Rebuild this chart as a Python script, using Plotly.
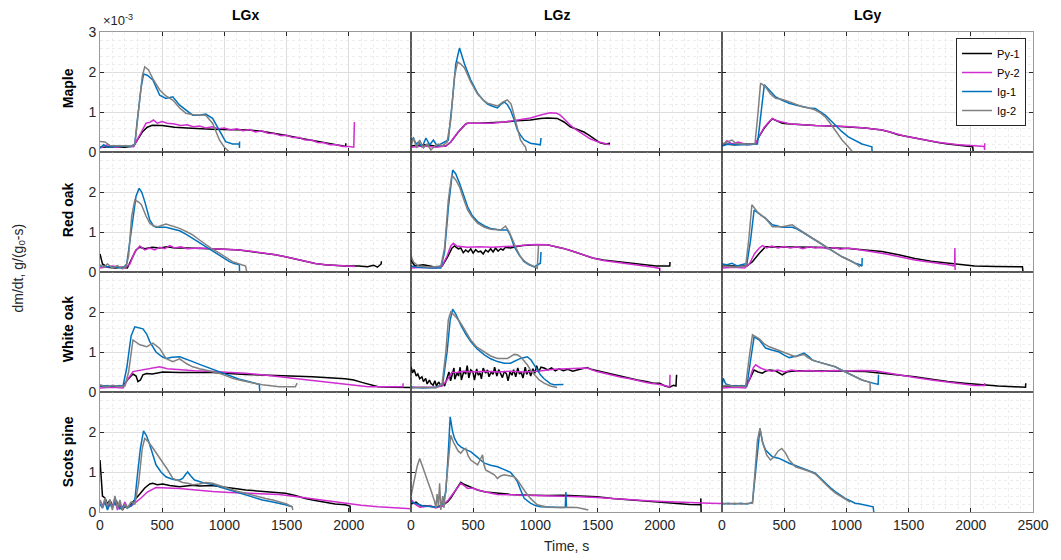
import plotly.graph_objects as go
from plotly.subplots import make_subplots

# ---------------- data: (time s, dm/dt in 1e-3 g/(g0 s)) ----------------
maple_lgx_py1 = [(0,0.12),(100,0.13),(200,0.12),(270,0.15),(300,0.3),(340,0.5),(380,0.62),(420,0.67),(500,0.66),(600,0.62),(700,0.6),(800,0.58),(900,0.57),(1000,0.56),(1100,0.56),(1200,0.55),(1300,0.52),(1400,0.47),(1500,0.41),(1600,0.35),(1700,0.29),(1800,0.23),(1900,0.18),(1975,0.14),(1976,0.22)]
maple_lgx_py2 = [(0,0.1),(60,0.18),(120,0.12),(200,0.15),(270,0.13),(300,0.3),(340,0.55),(370,0.72),(400,0.74),(430,0.8),(460,0.72),(500,0.76),(540,0.72),(600,0.7),(650,0.66),(700,0.68),(750,0.63),(800,0.65),(850,0.6),(900,0.63),(950,0.58),(1000,0.6),(1050,0.55),(1100,0.58),(1150,0.53),(1200,0.56),(1250,0.5),(1300,0.53),(1350,0.47),(1400,0.46),(1450,0.41),(1500,0.42),(1550,0.36),(1600,0.36),(1650,0.3),(1700,0.3),(1750,0.24),(1800,0.23),(1850,0.18),(1900,0.18),(1950,0.14),(2000,0.14),(2040,0.12),(2045,0.75)]
maple_lgx_ig1 = [(0,0.1),(30,0.18),(60,0.12),(150,0.15),(250,0.14),(280,0.2),(300,0.8),(330,1.6),(350,1.95),(380,1.92),(425,1.8),(480,1.42),(530,1.34),(585,1.38),(640,1.17),(700,1.02),(745,0.92),(800,0.92),(850,0.95),(905,0.84),(960,0.55),(1010,0.26),(1065,0.2),(1120,0.2),(1121,0.1),(1122,0.26)]
maple_lgx_ig2 = [(0,0.26),(40,0.25),(80,0.16),(150,0.15),(250,0.15),(280,0.18),(310,1.0),(340,1.9),(360,2.13),(390,2.05),(430,1.8),(480,1.55),(530,1.4),(585,1.3),(640,1.1),(690,0.97),(750,0.93),(800,0.93),(850,0.92),(905,0.72),(960,0.3),(1000,0.12),(1040,0.0)]

maple_lgz_py1 = [(0,0.15),(100,0.18),(200,0.15),(280,0.15),(320,0.25),(380,0.5),(440,0.7),(455,0.72),(550,0.72),(650,0.73),(750,0.75),(850,0.78),(960,0.8),(1040,0.84),(1100,0.85),(1175,0.84),(1230,0.75),(1280,0.63),(1340,0.56),(1390,0.5),(1430,0.42),(1465,0.34),(1520,0.23),(1560,0.2),(1600,0.22)]
maple_lgz_py2 = [(0,0.12),(100,0.15),(200,0.12),(280,0.15),(320,0.25),(380,0.5),(440,0.7),(455,0.72),(550,0.72),(650,0.72),(750,0.75),(850,0.8),(960,0.85),(1050,0.93),(1120,0.98),(1170,0.97),(1200,0.92),(1240,0.8),(1280,0.67),(1330,0.55),(1390,0.42),(1440,0.33),(1495,0.26),(1540,0.22),(1575,0.2),(1600,0.18)]
maple_lgz_ig1 = [(0,0.3),(20,0.35),(40,0.2),(60,0.25),(90,0.12),(120,0.35),(150,0.18),(180,0.3),(210,0.15),(240,0.2),(270,0.25),(300,0.3),(330,1.2),(360,2.2),(390,2.6),(410,2.4),(430,2.2),(480,1.8),(535,1.47),(580,1.3),(615,1.2),(650,1.15),(695,1.1),(725,1.2),(750,1.25),(775,1.18),(800,1.05),(830,0.8),(855,0.55),(880,0.42),(910,0.3),(960,0.22),(1000,0.2),(1040,0.18),(1045,0.35)]
maple_lgz_ig2 = [(0,0.15),(20,0.35),(45,0.1),(70,0.3),(100,0.1),(130,0.2),(160,0.05),(190,0.15),(220,0.2),(250,0.15),(290,0.25),(320,0.8),(350,1.9),(375,2.25),(400,2.2),(430,2.1),(480,1.75),(535,1.45),(580,1.3),(615,1.22),(695,1.15),(740,1.25),(775,1.3),(805,1.2),(830,0.9),(855,0.6),(880,0.3),(905,0.18),(920,0.13),(930,0.0)]

maple_lgy_py1 = [(0,0.2),(100,0.18),(200,0.2),(270,0.2),(300,0.4),(340,0.6),(380,0.75),(405,0.83),(440,0.78),(485,0.72),(550,0.7),(620,0.68),(750,0.66),(885,0.65),(1000,0.63),(1150,0.6),(1285,0.55),(1350,0.5),(1415,0.43),(1480,0.39),(1550,0.34),(1620,0.3),(1685,0.26),(1750,0.23),(1815,0.2),(1900,0.17),(2015,0.13),(2020,0.0)]
maple_lgy_py2 = [(0,0.15),(40,0.28),(80,0.2),(130,0.25),(200,0.18),(270,0.2),(300,0.4),(340,0.62),(380,0.76),(405,0.84),(440,0.78),(485,0.74),(550,0.7),(620,0.69),(750,0.66),(885,0.65),(1000,0.64),(1150,0.6),(1285,0.55),(1350,0.5),(1415,0.44),(1480,0.39),(1550,0.35),(1620,0.3),(1685,0.27),(1750,0.24),(1815,0.21),(1900,0.18),(2000,0.16),(2060,0.14),(2110,0.14),(2111,0.05),(2112,0.22)]
maple_lgy_ig1 = [(0,0.15),(50,0.2),(100,0.18),(200,0.18),(285,0.2),(310,0.9),(340,1.68),(380,1.55),(430,1.38),(480,1.3),(540,1.22),(600,1.17),(645,1.13),(700,1.1),(750,1.09),(790,1.0),(830,0.92),(870,0.8),(910,0.67),(960,0.52),(1015,0.38),(1070,0.28),(1125,0.2),(1170,0.16),(1205,0.13),(1206,0.02)]
maple_lgy_ig2 = [(0,0.2),(40,0.25),(80,0.3),(110,0.22),(150,0.2),(200,0.2),(265,0.2),(290,1.0),(310,1.72),(350,1.63),(390,1.45),(430,1.34),(480,1.32),(540,1.26),(590,1.2),(645,1.13),(700,1.1),(750,1.05),(790,0.98),(830,0.88),(870,0.72),(910,0.55),(965,0.3),(1015,0.13),(1050,0.0)]

redoak_lgx_py1 = [(0,0.45),(20,0.2),(60,0.12),(120,0.1),(180,0.12),(220,0.1),(250,0.3),(290,0.55),(320,0.62),(360,0.58),(420,0.62),(480,0.6),(540,0.63),(600,0.6),(700,0.6),(850,0.59),(1000,0.57),(1120,0.55),(1230,0.51),(1330,0.47),(1410,0.43),(1490,0.38),(1570,0.32),(1650,0.26),(1730,0.21),(1810,0.18),(1900,0.16),(1970,0.15),(2080,0.15),(2150,0.13),(2200,0.17),(2230,0.12),(2260,0.2),(2262,0.27)]
redoak_lgx_py2 = [(0,0.1),(100,0.15),(200,0.1),(240,0.2),(280,0.5),(320,0.65),(360,0.55),(400,0.6),(440,0.55),(480,0.62),(520,0.58),(560,0.66),(600,0.6),(650,0.63),(700,0.58),(800,0.6),(900,0.58),(1000,0.57),(1120,0.55),(1230,0.51),(1330,0.47),(1410,0.43),(1490,0.38),(1570,0.32),(1650,0.26),(1730,0.21),(1810,0.18),(1900,0.16),(1970,0.15),(2050,0.14)]
redoak_lgx_ig1 = [(0,0.15),(60,0.13),(120,0.12),(185,0.1),(215,0.2),(260,1.2),(290,1.9),(315,2.09),(335,2.0),(360,1.76),(400,1.3),(430,1.15),(450,1.12),(530,1.12),(580,1.08),(640,1.03),(700,0.93),(745,0.84),(800,0.73),(850,0.63),(900,0.53),(960,0.42),(1000,0.33),(1040,0.26),(1080,0.21),(1120,0.18),(1122,0.0)]
redoak_lgx_ig2 = [(0,0.18),(30,0.12),(60,0.2),(100,0.1),(140,0.16),(180,0.08),(210,0.15),(230,0.4),(255,1.4),(280,1.8),(310,1.75),(333,1.68),(370,1.4),(400,1.22),(430,1.15),(465,1.13),(530,1.2),(580,1.15),(640,1.09),(700,1.0),(745,0.93),(800,0.8),(850,0.68),(900,0.58),(960,0.47),(1010,0.36),(1065,0.26),(1120,0.2),(1170,0.15),(1180,0.0)]

redoak_lgz_py1 = [(0,0.3),(30,0.15),(100,0.18),(200,0.12),(250,0.15),(290,0.35),(330,0.6),(350,0.65),(380,0.58),(400,0.6),(420,0.48),(440,0.55),(460,0.5),(480,0.58),(500,0.47),(520,0.56),(540,0.5),(560,0.52),(580,0.45),(600,0.55),(620,0.5),(640,0.58),(660,0.5),(680,0.6),(700,0.52),(720,0.58),(740,0.55),(760,0.62),(800,0.6),(850,0.64),(900,0.66),(1000,0.68),(1095,0.68),(1160,0.64),(1225,0.59),(1300,0.52),(1385,0.42),(1460,0.35),(1545,0.3),(1650,0.26),(1760,0.22),(1870,0.18),(1970,0.15),(2080,0.15),(2082,0.25)]
redoak_lgz_py2 = [(0,0.1),(100,0.12),(200,0.1),(250,0.15),(290,0.4),(320,0.65),(340,0.72),(370,0.65),(450,0.62),(550,0.63),(650,0.62),(750,0.63),(850,0.65),(950,0.68),(1015,0.69),(1095,0.68),(1160,0.64),(1225,0.59),(1300,0.52),(1385,0.42),(1460,0.35),(1545,0.29),(1650,0.25),(1760,0.21),(1870,0.16),(1950,0.12),(2000,0.09),(2001,0.0)]
redoak_lgz_ig1 = [(0,0.15),(50,0.12),(150,0.1),(240,0.1),(270,0.5),(300,1.6),(335,2.55),(360,2.45),(390,2.22),(420,1.95),(455,1.63),(490,1.42),(535,1.26),(590,1.15),(640,1.09),(720,1.05),(775,1.05),(800,0.9),(830,0.63),(870,0.42),(910,0.26),(950,0.18),(990,0.13),(1040,0.22),(1045,0.5)]
redoak_lgz_ig2 = [(0,0.4),(20,0.25),(60,0.15),(150,0.12),(240,0.15),(270,0.6),(300,1.8),(328,2.42),(360,2.3),(390,2.13),(420,1.85),(455,1.55),(490,1.38),(535,1.22),(590,1.12),(640,1.07),(720,1.05),(760,1.15),(790,1.0),(815,0.8),(845,0.6),(880,0.38),(920,0.25),(960,0.18),(1015,0.09),(1025,0.65)]

redoak_lgy_py1 = [(0,0.15),(100,0.15),(200,0.15),(245,0.26),(300,0.47),(350,0.63),(485,0.63),(750,0.62),(1015,0.59),(1150,0.55),(1285,0.51),(1420,0.43),(1550,0.34),(1680,0.27),(1815,0.22),(1920,0.18),(2030,0.15),(2200,0.14),(2350,0.13),(2415,0.13),(2420,0.0)]
redoak_lgy_py2 = [(0,0.1),(100,0.12),(180,0.1),(220,0.2),(260,0.45),(300,0.6),(325,0.66),(360,0.6),(400,0.65),(450,0.6),(500,0.64),(550,0.6),(600,0.63),(650,0.58),(700,0.63),(750,0.6),(800,0.62),(850,0.58),(900,0.61),(950,0.57),(1015,0.6),(1100,0.56),(1200,0.52),(1285,0.47),(1350,0.43),(1420,0.38),(1500,0.33),(1550,0.3),(1620,0.27),(1700,0.24),(1760,0.22),(1820,0.18),(1870,0.15),(1872,0.6),(1874,0.05)]
redoak_lgy_ig1 = [(0,0.2),(40,0.18),(80,0.22),(120,0.15),(180,0.2),(200,0.2),(230,0.8),(258,1.55),(300,1.45),(350,1.34),(405,1.18),(485,1.12),(565,1.12),(600,1.08),(645,1.0),(700,0.9),(750,0.8),(800,0.7),(855,0.59),(910,0.48),(965,0.38),(1020,0.3),(1070,0.22),(1110,0.18),(1125,0.15),(1127,0.35)]
redoak_lgy_ig2 = [(0,0.15),(100,0.12),(190,0.15),(215,0.8),(240,1.68),(285,1.5),(350,1.34),(405,1.13),(485,1.13),(565,1.18),(600,1.1),(645,1.0),(700,0.9),(750,0.8),(800,0.7),(855,0.59),(910,0.48),(965,0.38),(1020,0.3),(1070,0.22),(1110,0.13)]

whiteoak_lgx_py1 = [(0,0.15),(100,0.13),(185,0.15),(220,0.3),(265,0.45),(290,0.4),(305,0.26),(325,0.3),(345,0.43),(375,0.46),(420,0.45),(505,0.5),(640,0.49),(905,0.49),(1170,0.44),(1440,0.41),(1705,0.38),(1970,0.33),(2040,0.3),(2105,0.24),(2170,0.18),(2235,0.13),(2350,0.12),(2500,0.11)]
whiteoak_lgx_py2 = [(0,0.1),(100,0.12),(185,0.1),(220,0.3),(265,0.51),(350,0.55),(420,0.6),(480,0.63),(540,0.58),(640,0.55),(760,0.53),(905,0.51),(1040,0.49),(1170,0.47),(1300,0.43),(1440,0.38),(1570,0.34),(1705,0.3),(1840,0.25),(1970,0.2),(2060,0.16),(2155,0.13),(2300,0.13),(2435,0.13),(2437,0.22)]
whiteoak_lgx_ig1 = [(0,0.15),(100,0.15),(185,0.15),(215,0.6),(250,1.4),(280,1.63),(345,1.58),(375,1.45),(400,1.26),(450,1.0),(500,0.88),(530,0.84),(580,0.87),(640,0.88),(700,0.8),(745,0.76),(800,0.69),(850,0.63),(900,0.57),(960,0.51),(1010,0.45),(1065,0.38),(1120,0.32),(1170,0.28),(1230,0.23),(1280,0.19),(1285,0.0)]
whiteoak_lgx_ig2 = [(0,0.18),(50,0.12),(100,0.17),(150,0.13),(200,0.15),(230,0.5),(265,1.3),(320,1.18),(375,1.13),(425,1.22),(480,1.09),(530,0.84),(585,0.76),(640,0.83),(700,0.7),(745,0.63),(800,0.58),(850,0.55),(900,0.51),(960,0.47),(1010,0.41),(1065,0.34),(1120,0.3),(1170,0.26),(1240,0.22),(1305,0.18),(1370,0.15),(1440,0.13),(1500,0.13),(1570,0.13),(1585,0.22)]

whiteoak_lgz_py1 = [(0,0.63),(12,0.48),(25,0.56),(42,0.4),(55,0.45),(70,0.33),(88,0.38),(100,0.26),(118,0.34),(130,0.2),(148,0.3),(160,0.22),(178,0.17),(192,0.28),(205,0.15),(222,0.25),(240,0.16),(255,0.22),(270,0.15),(290,0.35),(305,0.5),(318,0.28),(330,0.45),(345,0.6),(352,0.32),(370,0.48),(382,0.4),(395,0.62),(405,0.3),(425,0.52),(440,0.45),(452,0.66),(465,0.35),(480,0.55),(498,0.5),(510,0.3),(528,0.58),(540,0.42),(555,0.48),(566,0.33),(580,0.6),(600,0.47),(615,0.55),(627,0.38),(645,0.5),(660,0.44),(672,0.62),(690,0.4),(705,0.56),(718,0.48),(735,0.36),(750,0.52),(768,0.45),(780,0.28),(796,0.5),(812,0.42),(825,0.56),(842,0.38),(858,0.6),(872,0.45),(885,0.5),(900,0.35),(918,0.62),(930,0.44),(948,0.55),(962,0.4),(980,0.58),(995,0.47),(1010,0.66),(1025,0.5),(1045,0.62),(1070,0.6),(1100,0.55),(1130,0.6),(1160,0.53),(1190,0.58),(1225,0.53),(1260,0.57),(1300,0.52),(1335,0.55),(1370,0.58),(1415,0.61),(1455,0.56),(1495,0.53),(1560,0.48),(1625,0.43),(1690,0.38),(1760,0.34),(1820,0.3),(1890,0.26),(1950,0.22),(2000,0.22),(2040,0.15),(2080,0.12),(2110,0.17),(2130,0.15),(2135,0.43)]
whiteoak_lgz_py2 = [(0,0.12),(100,0.12),(200,0.12),(250,0.15),(290,0.3),(330,0.5),(360,0.48),(420,0.52),(500,0.5),(600,0.52),(700,0.5),(800,0.52),(900,0.5),(1015,0.52),(1080,0.55),(1150,0.57),(1250,0.58),(1350,0.59),(1415,0.6),(1495,0.51),(1560,0.46),(1625,0.41),(1690,0.37),(1760,0.33),(1830,0.28),(1900,0.23),(2000,0.19),(2040,0.16),(2080,0.13),(2082,0.43)]
whiteoak_lgz_ig1 = [(0,0.12),(100,0.1),(200,0.12),(255,0.2),(290,1.0),(315,1.8),(335,2.07),(360,1.95),(400,1.68),(440,1.45),(480,1.26),(530,1.08),(590,0.93),(640,0.83),(695,0.76),(750,0.72),(800,0.72),(840,0.78),(880,0.84),(935,0.88),(965,0.8),(990,0.68),(1015,0.55),(1040,0.43),(1070,0.33),(1095,0.26),(1120,0.21),(1150,0.18),(1190,0.18),(1225,0.19)]
whiteoak_lgz_ig2 = [(0,0.1),(100,0.12),(200,0.1),(250,0.2),(280,1.0),(300,1.8),(320,2.0),(360,1.88),(400,1.72),(440,1.5),(480,1.3),(530,1.12),(590,1.0),(640,0.9),(695,0.84),(775,0.84),(830,0.94),(855,0.93),(880,0.88),(910,0.78),(935,0.68),(960,0.55),(990,0.43),(1030,0.3),(1070,0.22),(1120,0.15),(1175,0.11)]

whiteoak_lgy_py1 = [(0,0.15),(100,0.15),(190,0.15),(220,0.3),(258,0.55),(290,0.5),(325,0.47),(350,0.52),(380,0.55),(430,0.53),(485,0.43),(520,0.5),(560,0.52),(620,0.53),(750,0.53),(885,0.53),(1015,0.52),(1150,0.51),(1285,0.47),(1415,0.43),(1550,0.38),(1685,0.32),(1815,0.26),(1950,0.22),(2080,0.18),(2220,0.15),(2350,0.13),(2440,0.12),(2442,0.22)]
whiteoak_lgy_py2 = [(0,0.1),(100,0.12),(190,0.1),(220,0.3),(250,0.6),(270,0.68),(310,0.6),(350,0.55),(400,0.52),(450,0.55),(500,0.5),(560,0.55),(620,0.52),(700,0.54),(800,0.51),(900,0.54),(1000,0.52),(1100,0.54),(1230,0.53),(1320,0.48),(1415,0.43),(1550,0.36),(1685,0.3),(1820,0.24),(1950,0.18),(2030,0.16),(2110,0.16),(2112,0.22)]
whiteoak_lgy_ig1 = [(0,0.15),(10,0.34),(30,0.2),(80,0.15),(150,0.15),(200,0.15),(230,0.8),(258,1.38),(300,1.3),(350,1.1),(400,1.05),(460,1.0),(500,0.92),(540,0.86),(600,0.9),(660,0.97),(700,0.88),(725,0.8),(765,0.76),(805,0.72),(860,0.67),(910,0.63),(960,0.55),(1015,0.47),(1070,0.38),(1125,0.3),(1190,0.24),(1230,0.21),(1255,0.19),(1258,0.43)]
whiteoak_lgy_ig2 = [(0,0.15),(50,0.17),(100,0.14),(150,0.15),(190,0.15),(220,0.9),(245,1.43),(300,1.33),(340,1.2),(380,1.13),(420,1.08),(460,1.05),(500,1.0),(540,0.94),(590,0.88),(630,0.92),(660,0.94),(690,0.86),(725,0.8),(765,0.76),(805,0.72),(860,0.67),(910,0.63),(960,0.55),(1015,0.47),(1070,0.38),(1125,0.3),(1190,0.24),(1192,0.0)]

scots_lgx_py1 = [(0,1.3),(10,0.8),(20,0.4),(40,0.35),(60,0.2),(80,0.3),(100,0.15),(120,0.25),(140,0.1),(160,0.2),(180,0.05),(200,0.15),(220,0.1),(250,0.2),(280,0.3),(320,0.45),(360,0.6),(400,0.7),(425,0.72),(460,0.68),(505,0.7),(560,0.66),(640,0.63),(700,0.65),(745,0.67),(800,0.65),(905,0.66),(970,0.63),(1040,0.61),(1100,0.58),(1170,0.55),(1250,0.53),(1330,0.52),(1410,0.5),(1490,0.47),(1570,0.41),(1650,0.34),(1730,0.29),(1810,0.24),(1890,0.2),(1970,0.18),(2010,0.15),(2012,0.0)]
scots_lgx_py2 = [(0,0.3),(20,0.15),(40,0.3),(60,0.1),(80,0.25),(100,0.12),(120,0.35),(140,0.05),(160,0.2),(180,0.1),(200,0.25),(220,0.12),(250,0.15),(290,0.25),(330,0.35),(380,0.5),(450,0.61),(540,0.6),(640,0.59),(770,0.55),(905,0.51),(1040,0.49),(1170,0.47),(1300,0.45),(1440,0.44),(1570,0.39),(1705,0.33),(1840,0.27),(1970,0.22),(2100,0.17),(2235,0.13),(2370,0.1),(2500,0.08)]
scots_lgx_ig1 = [(0,0.2),(20,0.1),(40,0.25),(60,0.05),(80,0.2),(100,0.1),(130,0.3),(160,0.08),(190,0.15),(220,0.1),(250,0.15),(280,0.3),(300,0.9),(325,1.6),(350,2.03),(375,1.9),(400,1.68),(425,1.42),(450,1.18),(490,1.0),(530,0.88),(570,0.83),(610,0.8),(640,0.8),(665,0.84),(690,0.95),(705,1.0),(730,0.9),(760,0.8),(825,0.74),(905,0.69),(970,0.62),(1040,0.55),(1100,0.49),(1170,0.43),(1240,0.36),(1305,0.3),(1370,0.26),(1440,0.22),(1490,0.18),(1545,0.13)]
scots_lgx_ig2 = [(0,0.3),(20,0.1),(40,0.35),(60,0.15),(80,0.3),(100,0.05),(120,0.4),(140,0.1),(160,0.3),(180,0.05),(200,0.2),(220,0.1),(250,0.25),(280,0.2),(310,0.7),(340,1.6),(360,1.84),(390,1.75),(425,1.6),(465,1.42),(505,1.26),(545,1.05),(585,0.84),(625,0.78),(665,0.74),(705,0.72),(745,0.68),(800,0.7),(850,0.74),(905,0.72),(970,0.65),(1040,0.58),(1100,0.52),(1170,0.47),(1250,0.4),(1330,0.34),(1390,0.3),(1440,0.26),(1500,0.2),(1545,0.13),(1550,0.05)]

scots_lgz_py1 = [(0,0.2),(40,0.25),(80,0.15),(150,0.15),(200,0.12),(250,0.15),(295,0.26),(320,0.35),(350,0.5),(380,0.65),(400,0.74),(420,0.7),(455,0.66),(495,0.6),(535,0.55),(600,0.5),(695,0.47),(800,0.44),(960,0.42),(1100,0.41),(1225,0.42),(1350,0.4),(1495,0.38),(1620,0.34),(1760,0.3),(1900,0.27),(2025,0.24),(2140,0.21),(2240,0.19),(2328,0.18),(2330,0.34),(2332,0.0)]
scots_lgz_py2 = [(0,0.32),(30,0.2),(70,0.12),(150,0.15),(200,0.1),(250,0.15),(300,0.3),(350,0.5),(400,0.72),(430,0.65),(455,0.59),(495,0.6),(535,0.55),(600,0.5),(695,0.44),(800,0.43),(960,0.42),(1100,0.4),(1225,0.4),(1350,0.38),(1495,0.36),(1620,0.33),(1760,0.3),(1900,0.28),(2025,0.26),(2160,0.24),(2290,0.22),(2400,0.22),(2500,0.21)]
scots_lgz_ig1 = [(0,0.25),(30,0.22),(60,0.18),(100,0.15),(150,0.14),(200,0.12),(250,0.18),(280,0.5),(300,1.5),(315,2.38),(335,2.0),(350,1.84),(375,1.7),(400,1.63),(440,1.56),(480,1.51),(530,1.38),(590,1.22),(640,1.17),(695,1.13),(750,1.06),(800,0.99),(830,0.88),(855,0.76),(880,0.56),(910,0.34),(960,0.22),(1000,0.16),(1040,0.13),(1150,0.11),(1225,0.11),(1240,0.12),(1245,0.5),(1250,0.12)]
scots_lgz_ig2 = [(0,0.4),(25,0.8),(50,1.15),(70,1.34),(100,1.05),(135,0.76),(165,0.5),(190,0.26),(200,0.1),(210,0.45),(220,0.15),(230,0.72),(240,0.05),(255,0.4),(265,0.1),(280,0.55),(300,1.2),(320,1.92),(340,1.75),(360,1.63),(380,1.52),(400,1.47),(420,1.55),(440,1.59),(460,1.4),(480,1.3),(505,1.25),(535,1.18),(555,1.3),(575,1.43),(585,1.2),(600,1.05),(630,1.0),(670,0.93),(695,0.84),(720,0.9),(750,0.93),(790,0.9),(830,0.88),(855,0.8),(880,0.68),(920,0.5),(960,0.34),(990,0.24),(1015,0.18),(1100,0.12),(1175,0.11),(1250,0.12),(1335,0.11),(1400,0.07),(1425,0.05)]

scots_lgy_ig1 = [(0,0.2),(50,0.22),(100,0.2),(150,0.22),(200,0.2),(245,0.24),(270,1.0),(290,1.7),(305,2.09),(325,1.75),(350,1.55),(405,1.38),(460,1.34),(540,1.22),(620,1.13),(700,1.03),(750,0.97),(790,0.85),(830,0.72),(870,0.61),(910,0.51),(950,0.42),(990,0.34),(1030,0.28),(1070,0.22),(1110,0.2),(1150,0.18),(1215,0.13),(1220,0.0)]
scots_lgy_ig2 = [(0,0.22),(50,0.2),(100,0.22),(150,0.2),(200,0.21),(245,0.22),(265,1.0),(285,1.8),(305,2.09),(330,1.7),(360,1.42),(390,1.3),(420,1.38),(450,1.52),(480,1.59),(510,1.48),(540,1.3),(590,1.13),(620,1.1),(700,1.02),(750,0.95),(790,0.82),(830,0.7),(870,0.58),(910,0.48),(950,0.4),(990,0.32),(1030,0.25)]

species = ["Maple", "Red oak", "White oak", "Scots pine"]
columns = ["LGx", "LGz", "LGy"]
series_names = ["Py-1", "Py-2", "Ig-1", "Ig-2"]
series_colors = ["#000000", "#D02CD0", "#0072BD", "#808080"]

panels = [
    [[maple_lgx_py1, maple_lgx_py2, maple_lgx_ig1, maple_lgx_ig2],
     [maple_lgz_py1, maple_lgz_py2, maple_lgz_ig1, maple_lgz_ig2],
     [maple_lgy_py1, maple_lgy_py2, maple_lgy_ig1, maple_lgy_ig2]],
    [[redoak_lgx_py1, redoak_lgx_py2, redoak_lgx_ig1, redoak_lgx_ig2],
     [redoak_lgz_py1, redoak_lgz_py2, redoak_lgz_ig1, redoak_lgz_ig2],
     [redoak_lgy_py1, redoak_lgy_py2, redoak_lgy_ig1, redoak_lgy_ig2]],
    [[whiteoak_lgx_py1, whiteoak_lgx_py2, whiteoak_lgx_ig1, whiteoak_lgx_ig2],
     [whiteoak_lgz_py1, whiteoak_lgz_py2, whiteoak_lgz_ig1, whiteoak_lgz_ig2],
     [whiteoak_lgy_py1, whiteoak_lgy_py2, whiteoak_lgy_ig1, whiteoak_lgy_ig2]],
    [[scots_lgx_py1, scots_lgx_py2, scots_lgx_ig1, scots_lgx_ig2],
     [scots_lgz_py1, scots_lgz_py2, scots_lgz_ig1, scots_lgz_ig2],
     [None, None, scots_lgy_ig1, scots_lgy_ig2]],
]

FONT = "Arial, Liberation Sans, sans-serif"
TXT = "#262626"

fig = make_subplots(rows=4, cols=3, horizontal_spacing=0, vertical_spacing=0)

for r in range(4):
    for c in range(3):
        for k in range(4):
            data = panels[r][c][k]
            if data is None:
                continue
            fig.add_trace(go.Scatter(
                x=[p[0] for p in data], y=[p[1] for p in data], mode="lines",
                name=series_names[k], legendgroup=series_names[k],
                showlegend=(r == 0 and c == 0),
                line=dict(color=series_colors[k], width=1.5)),
                row=r + 1, col=c + 1)

x_ticks_inner = [0, 500, 1000, 1500, 2000]
x_ticks_last = [0, 500, 1000, 1500, 2000, 2500]
for r in range(4):
    for c in range(3):
        tv = x_ticks_last if c == 2 else x_ticks_inner
        fig.update_xaxes(
            range=[0, 2500], tickmode="array", tickvals=tv,
            ticktext=[str(v) for v in tv], showticklabels=(r == 3),
            showgrid=True, gridcolor="#dedede", gridwidth=1,
            minor=dict(tickmode="linear", tick0=0, dtick=100, showgrid=True,
                       gridcolor="#ededed", griddash="dot", ticks=""),
            ticks="inside", ticklen=4, tickcolor=TXT,
            showline=True, linecolor="#9a9a9a", linewidth=1, mirror="ticks",
            zeroline=False, tickfont=dict(family=FONT, size=14, color=TXT),
            row=r + 1, col=c + 1)
        ytv = [0, 1, 2, 3] if r == 0 else [0, 1, 2]
        fig.update_yaxes(
            range=[0, 3], tickmode="array", tickvals=ytv,
            ticktext=[str(v) for v in ytv], showticklabels=(c == 0),
            showgrid=True, gridcolor="#dedede", gridwidth=1,
            minor=dict(tickmode="linear", tick0=0, dtick=0.2, showgrid=True,
                       gridcolor="#ededed", griddash="dot", ticks=""),
            ticks="inside", ticklen=4, tickcolor=TXT,
            showline=True, linecolor="#9a9a9a", linewidth=1, mirror="ticks",
            zeroline=False, tickfont=dict(family=FONT, size=14, color=TXT),
            row=r + 1, col=c + 1)

# inner dark frame lines between panels
shapes = []
for xv in [1/3, 2/3]:
    shapes.append(dict(type="line", xref="paper", yref="paper", x0=xv, x1=xv, y0=0, y1=1,
                       line=dict(color="#1a1a1a", width=1), layer="above"))
for yv in [0.25, 0.5, 0.75]:
    shapes.append(dict(type="line", xref="paper", yref="paper", x0=0, x1=1, y0=yv, y1=yv,
                       line=dict(color="#1a1a1a", width=1), layer="above"))

W, H = 1061, 560
L, R, T, B = 100, 22, 32, 48
pw, ph = W - L - R, H - T - B

def px_x(x):
    return (x - L) / pw

def px_y(y):
    return (H - B - y) / ph

annotations = []
for name, xc in zip(columns, [246, 560, 872]):
    annotations.append(dict(text="<b>%s</b>" % name, x=px_x(xc), y=px_y(15), xref="paper", yref="paper",
                            showarrow=False, xanchor="center", yanchor="middle",
                            font=dict(family=FONT, size=14, color="#000000")))
for name, yc in zip(species, [88, 210, 329, 452]):
    annotations.append(dict(text="<b>%s</b>" % name, x=px_x(68), y=px_y(yc), xref="paper", yref="paper",
                            showarrow=False, xanchor="center", yanchor="middle", textangle=-90,
                            font=dict(family=FONT, size=14, color="#000000")))
annotations.append(dict(text="dm/dt, g/(g<sub>0</sub>-s)", x=px_x(18), y=px_y(268), xref="paper", yref="paper",
                        showarrow=False, xanchor="center", yanchor="middle", textangle=-90,
                        font=dict(family=FONT, size=14, color=TXT)))
annotations.append(dict(text="Time, s", x=px_x(570), y=px_y(546), xref="paper", yref="paper",
                        showarrow=False, xanchor="center", yanchor="middle",
                        font=dict(family=FONT, size=14, color=TXT)))
annotations.append(dict(text="\u00d710<sup>-3</sup>", x=px_x(101), y=px_y(30), xref="paper", yref="paper",
                        showarrow=False, xanchor="left", yanchor="bottom",
                        font=dict(family=FONT, size=13, color=TXT)))

fig.update_layout(
    width=W, height=H, margin=dict(l=L, r=R, t=T, b=B),
    paper_bgcolor="white", plot_bgcolor="white",
    shapes=shapes, annotations=annotations,
    legend=dict(x=px_x(1032), y=px_y(38), xanchor="right", yanchor="top",
                bgcolor="white", bordercolor=TXT, borderwidth=1,
                font=dict(family=FONT, size=11, color="#000000"),
                tracegroupgap=0, itemwidth=30),
    font=dict(family=FONT),
    hovermode=False,
)

fig.write_html("out.html")
